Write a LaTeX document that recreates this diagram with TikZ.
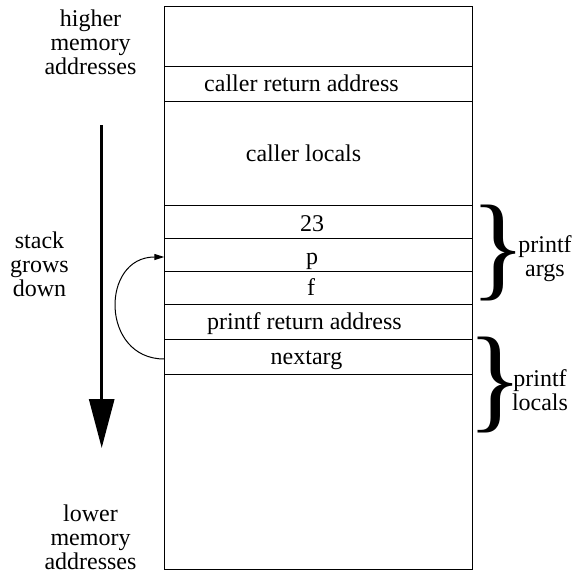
\documentclass[tikz,border=0pt]{standalone}
\usepackage{fontspec}
\setmainfont{Liberation Serif}
\usetikzlibrary{arrows.meta}
\begin{document}
\begin{tikzpicture}[x=0.5pt,y=-0.5pt,
  cell/.style={draw, line width=0.5pt, inner sep=0pt, outer sep=0pt,
    minimum width=154.2pt},
  lbl/.style={font=\fontsize{12pt}{12pt}\selectfont, inner sep=0pt, anchor=base},
  side/.style={lbl, align=center},
  brace/.style={font=\fontsize{58pt}{58pt}\selectfont, inner sep=0pt}]
\useasboundingbox (0,0) rectangle (574,574);

% stack frame cells: name, top, bottom
\foreach \nm/\t/\b in {top/6.7/66, cra/66/101, cloc/101/205, a23/205/238,
    ap/238/271, af/271/304, pra/304/339, nxt/339/374, low/374/569.3}
  \node[cell, minimum height={(\b-\t)*0.5pt}] (\nm) at (318.5,{(\t+\b)/2}) {};

% cell contents
\node[lbl] (tcra) at (301.5,91.5) {caller return address};
\node[lbl] (tcloc) at (303.5,161.5) {caller locals};
\node[lbl] (t23) at (312,231.7) {23};
\node[lbl] (tp) at (312,264) {p};
\node[lbl] (tf) at (311,295.5) {f};
\node[lbl] (tpra) at (304.5,329.3) {printf return address};
\node[lbl] (tnxt) at (306.5,364.3) {nextarg};

% side labels (anchored at the baseline of their last line)
\node[side] (hi) at (90.5,74) {higher\\memory\\addresses};
\node[side] (lo) at (90.5,569) {lower\\memory\\addresses};
\node[side] (grow) at (39.5,296) {stack\\grows\\down};
\node[side] (pargs) at (545,276) {printf\\args};
\node[side] (plocs) at (540,410) {printf\\locals};

% braces (zero-width boxes so only the glyph ink counts)
\node[brace] (br1) at (498,253) {\makebox[0pt]{\}}};
\node[brace] (br2) at (495,385) {\makebox[0pt]{\}}};

% growth direction
\coordinate (gtop) at (101.7,125);
\coordinate (gtip) at (101.7,448);
\draw[line width=1.5pt, -{Triangle[length=24.5pt,width=12.5pt]}] (gtop) -- (gtip);

% nextarg points at the argument after f
\coordinate (from) at ([yshift=-1.25pt]nxt.west);
\coordinate (to) at ([yshift=-1.25pt]ap.west);
\draw[line width=0.5pt, -{Triangle[length=5pt,width=3pt]}]
  (from) .. controls +(-64,0) and +(-64,0) .. (to);
\end{tikzpicture}
\end{document}
